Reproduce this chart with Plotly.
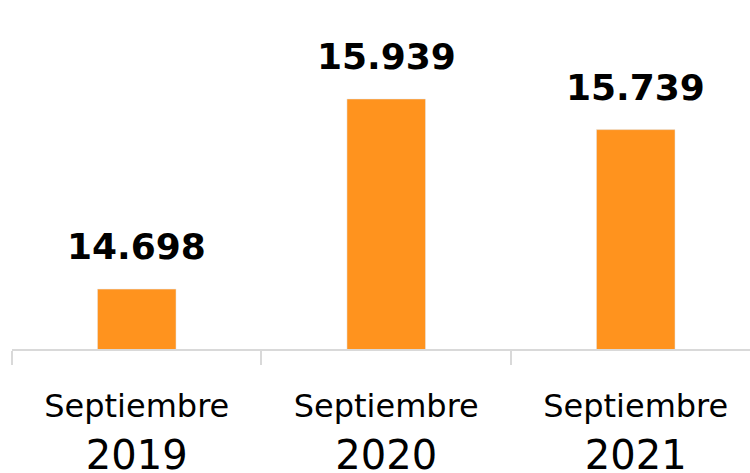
import plotly.graph_objects as go

BAR_COLOR = "#FF931E"
AXIS_COLOR = "#D9D9D9"
FONT_FAMILY = "'DejaVu Sans', sans-serif"

months = ["Septiembre", "Septiembre", "Septiembre"]
years = ["2019", "2020", "2021"]
values = [14.698, 15.939, 15.739]
value_labels = ["14.698", "15.939", "15.739"]

tick_text = [
    f"<span style='font-size:32px'>{month}</span><br>{year}"
    for month, year in zip(months, years)
]

fig = go.Figure(
    go.Bar(
        x=years,
        y=values,
        width=0.315,
        marker_color=BAR_COLOR,
        hoverinfo="skip",
    )
)

# value labels above bars (index x on the category axis)
for i, (value, label) in enumerate(zip(values, value_labels)):
    fig.add_annotation(
        x=i,
        y=value,
        text=f"<b>{label}</b>",
        showarrow=False,
        yanchor="bottom",
        yshift=20,
        font=dict(size=36, color="#000000", family=FONT_FAMILY),
    )

fig.update_layout(
    width=750,
    height=473,
    margin=dict(l=12, r=0, t=0, b=124),
    plot_bgcolor="white",
    paper_bgcolor="white",
    showlegend=False,
    font=dict(family=FONT_FAMILY, color="#000000"),
)
fig.update_xaxes(
    type="category",
    range=[-0.5, 2.458],
    tickvals=years,
    ticktext=tick_text,
    tickfont=dict(size=40, family=FONT_FAMILY, color="#000000"),
    ticklabelstandoff=18,
    automargin=False,
    showline=True,
    linecolor=AXIS_COLOR,
    linewidth=2,
    ticks="outside",
    tickson="boundaries",
    ticklen=14,
    tickwidth=2,
    tickcolor=AXIS_COLOR,
    showgrid=False,
)
fig.update_yaxes(
    range=[14.307, 16.585],
    visible=False,
    showgrid=False,
    zeroline=False,
)

fig.write_html(
    "out.html",
    config={"displayModeBar": False},
    post_script="document.body.style.margin='0';",
)
